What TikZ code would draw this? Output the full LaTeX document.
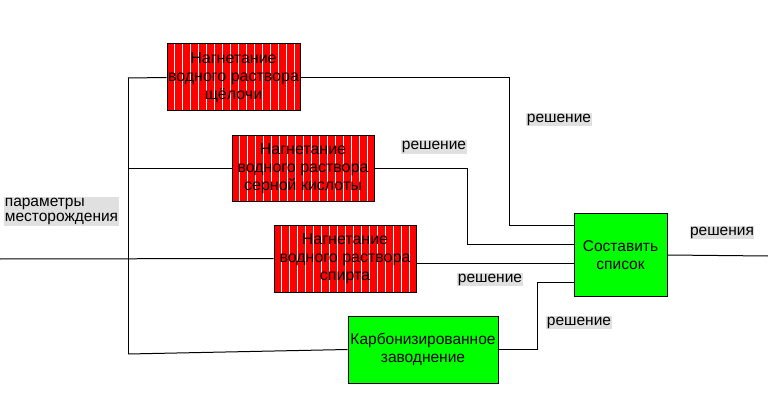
\documentclass[tikz,border=0pt]{standalone}
\usepackage{fontspec}
\setmainfont{Liberation Sans}
\begin{document}
\begin{tikzpicture}[x=1pt,y=-1pt,
  every node/.style={font=\fontsize{15.5}{18}\selectfont},
  redbox/.style={draw=black,line width=1pt,fill=red,inner sep=0pt,align=center,
    font=\fontsize{16}{18}\selectfont,
    path picture={\foreach \s in {7,15,...,199}{\draw[white,line width=1pt]
      ([xshift=\s pt]path picture bounding box.south west) --
      ([xshift=\s pt]path picture bounding box.north west);}}},
  greenbox/.style={draw=black,line width=1pt,fill=green,inner sep=0pt,align=center},
  lbl/.style={fill=black!12,inner xsep=0.5pt,inner ysep=1pt},
  conn/.style={draw=black,line width=1pt}]
\useasboundingbox (0,0) rectangle (768,414);
\node[redbox,minimum width=133pt,minimum height=67pt] (b1) at (233.5,77.5) {Нагнетание\\водного раствора\\щёлочи};
\node[redbox,minimum width=142pt,minimum height=66pt] (b2) at (303,169) {Нагнетание\\водного раствора\\серной кислоты};
\node[redbox,minimum width=142pt,minimum height=67pt] (b3) at (345,258.5) {Нагнетание\\водного раствора\\спирта};
\node[greenbox,minimum width=150pt,minimum height=67pt] (b4) at (423,349.5) {Карбонизированное\\заводнение};
\node[greenbox,minimum width=93pt,minimum height=82pt] (b5) at (620.5,255) {Составить\\список};
\node[lbl] (l1) at (559,119.5) {решение};
\node[lbl] (l2) at (434,147) {решение};
\node[lbl] (l3) at (490,279.5) {решение};
\node[lbl] (l4) at (579,322.5) {решение};
\node[lbl] (l5) at (722,232.5) {решения};
\node[lbl,align=left,font=\fontsize{15.5}{15.5}\selectfont] (l6) at (61.5,211.5) {параметры\\месторождения};
\coordinate (in) at (0,259);
\coordinate (out) at (768,256);
\coordinate (t1) at (128,78);
\coordinate (t2) at (128,169);
\coordinate (t4) at (128,354);
\coordinate (j1) at (509,225);
\coordinate (j2) at (467,244);
\coordinate (j4) at (537,282);
\draw[conn] (in) -- (b3.west);
\draw[conn] (t1) -- (t4);
\draw[conn] (t1) -- (b1.west);
\draw[conn] (t2) -- (b2.west);
\draw[conn] (t4) -- (b4.west);
\draw[conn] (b1.east) -| (j1) -- (j1 -| b5.west);
\draw[conn] (b2.east) -| (j2) -- (j2 -| b5.west);
\draw[conn] ([yshift=-4.5pt]b3.east) -- ([yshift=-4.5pt]b3.east -| b5.west);
\draw[conn] (b4.east) -| (j4) -- (j4 -| b5.west);
\draw[conn] (b5.east) -- (out);
\end{tikzpicture}
\end{document}
